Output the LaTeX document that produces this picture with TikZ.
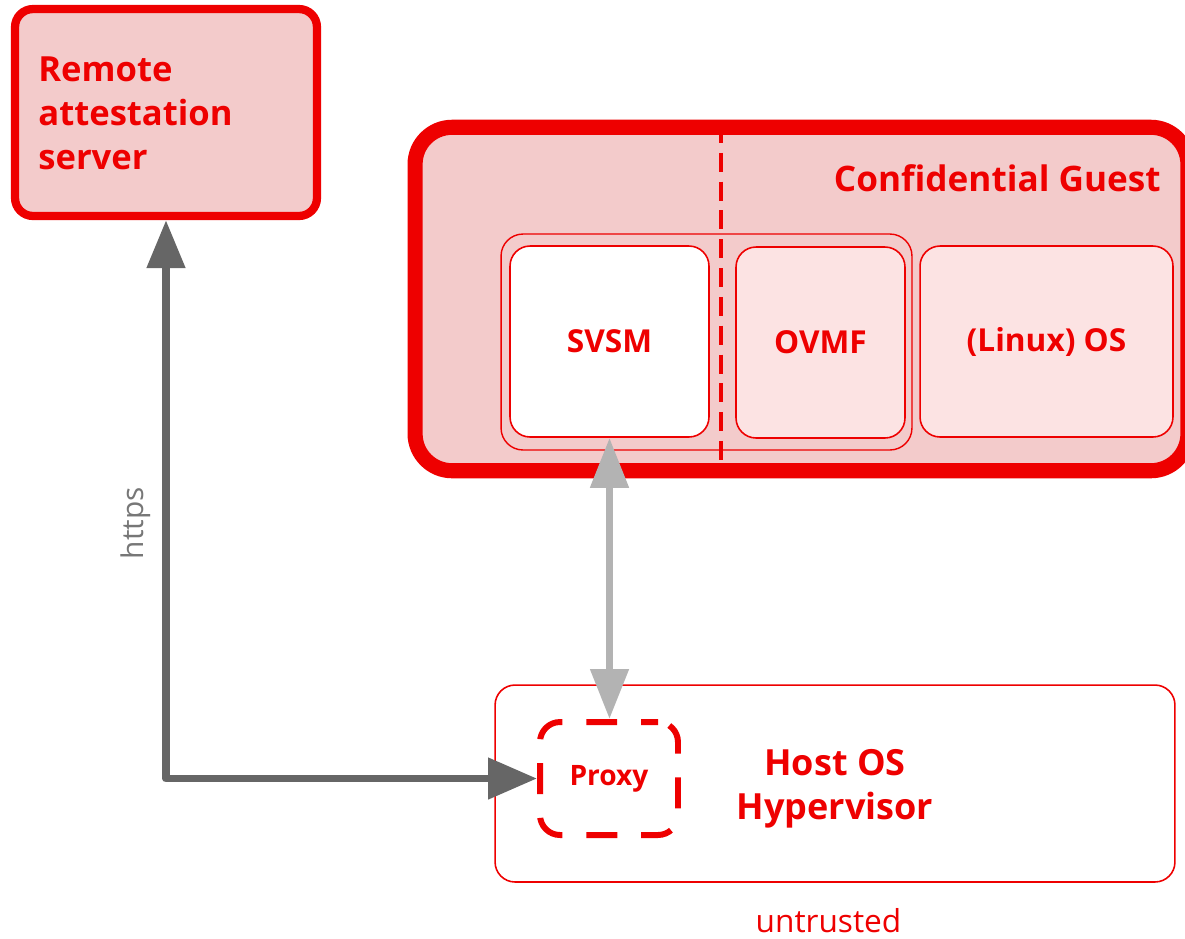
\documentclass[tikz,border=0pt]{standalone}
\usepackage{fontspec}
\setmainfont{Open Sans}
\usetikzlibrary{arrows.meta}

\definecolor{rhred}{HTML}{EE0000}
\definecolor{guestfill}{HTML}{F3CBCB}
\definecolor{softfill}{HTML}{FCE3E3}
\definecolor{darkline}{HTML}{666666}
\definecolor{lightline}{HTML}{B3B3B3}
\definecolor{labelgray}{HTML}{777777}

\tikzset{
  box/.style={draw=rhred, text=rhred, inner sep=0pt, align=center},
  thinbox/.style={box, line width=0.9pt, rounded corners=0.4cm},
  boldtxt/.style={text=rhred, inner sep=0pt, font=\bfseries\fontsize{#1}{25}\selectfont},
  darkarrow/.style={draw=darkline, line width=4.5pt, line join=round,
    {Triangle[length=0.96cm,width=0.74cm]}-{Triangle[length=0.98cm,width=0.8cm]}},
  lightarrow/.style={draw=lightline, line width=4.5pt,
    {Triangle[length=1cm,width=0.74cm]}-{Triangle[length=1cm,width=0.74cm]}}
}

\begin{document}
\begin{tikzpicture}[x=0.02cm, y=-0.02cm]
  \useasboundingbox (0,0) rectangle (1185,938);

  % remote attestation server
  \node[box, fill=guestfill, line width=4.7pt, rounded corners=0.36cm,
        minimum width=6.04cm, minimum height=4.14cm] (remote) at (166,112.5) {};
  \node[boldtxt=19.7, align=left, anchor=west] (remotetext) at (38,113.5)
    {Remote\\attestation\\server};

  % confidential guest (its right side runs past the page edge)
  \begin{scope}
    \clip (0,0) rectangle (1185,938);
    \node[box, fill=guestfill, line width=8.6pt, rounded corners=0.74cm,
          minimum width=15.46cm, minimum height=6.87cm] (guest) at (801.5,299) {};
  \end{scope}
  \node[boldtxt=20, anchor=base east] (guesttext) at (1161,191) {Confidential Guest};

  % firmware group with its components
  \node[box, line width=0.8pt, rounded corners=0.44cm,
        minimum width=8.22cm, minimum height=4.32cm] (fwgroup) at (706.5,342) {};
  \node[thinbox, fill=white, minimum width=3.98cm, minimum height=3.82cm,
        font=\bfseries\fontsize{18}{22}\selectfont] (svsm) at (609.5,341.5) {SVSM};
  \node[thinbox, fill=softfill, minimum width=3.38cm, minimum height=3.82cm,
        font=\bfseries\fontsize{18}{22}\selectfont] (ovmf) at (820.5,342.5) {OVMF};
  \node[thinbox, fill=softfill, minimum width=5.06cm, minimum height=3.82cm,
        font=\bfseries\fontsize{18}{22}\selectfont] (linux) at (1046.5,341.5) {(Linux) OS};

  % trust boundary inside the guest
  \draw[rhred, line width=2.3pt, dash pattern=on 10.8pt off 5.6pt] (721,124) -- (721,468);

  % host
  \node[thinbox, fill=white, minimum width=13.6cm, minimum height=3.94cm] (host) at (835,783.5) {};
  \node[boldtxt=20.5, align=center] (hosttext) at (835,789) {Host OS\\Hypervisor};
  \node[box, fill=white, line width=3.4pt, rounded corners=0.4cm,
        dash pattern=on 17.6pt off 13.6pt, dash phase=8pt,
        minimum width=2.76cm, minimum height=2.26cm,
        font=\bfseries\fontsize{16}{20}\selectfont] (proxy) at (609,778.5) {Proxy};
  \node[text=rhred, inner sep=0pt, anchor=base,
        font=\fontsize{18}{22}\selectfont] (untrusted) at (828.5,932) {untrusted};

  % connections
  \draw[darkarrow] (remote.south) |- (proxy.west);
  \node[text=labelgray, inner sep=0pt, rotate=90,
        font=\fontsize{17}{20}\selectfont] (https) at (136,523) {https};
  \draw[lightarrow] (svsm.south) -- (svsm.south |- proxy.north);
\end{tikzpicture}
\end{document}
